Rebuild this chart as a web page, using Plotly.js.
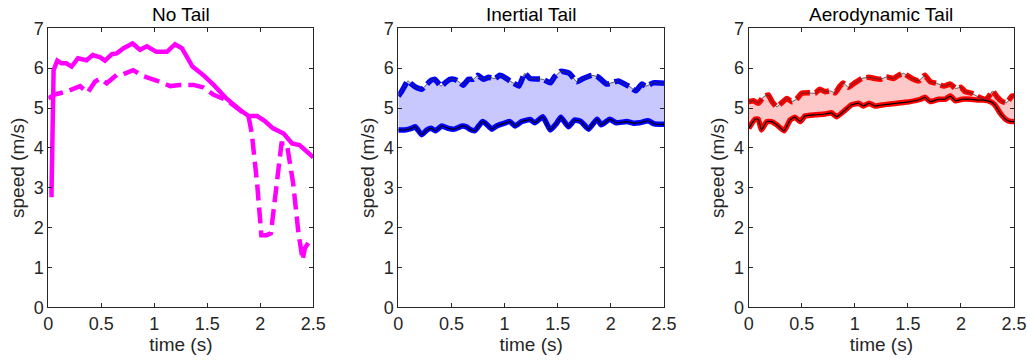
<!DOCTYPE html>
<html>
<head>
<meta charset="utf-8">
<script src="https://cdn.plot.ly/plotly-3.0.1.min.js"></script>
<style>html,body{margin:0;padding:0;background:#fff;}#chart{width:1027px;height:362px;}</style>
</head>
<body>
<div id="chart"></div>
<script>
// ---- No Tail ----
const noTailSolidT = [0.01,0.03,0.05,0.085,0.125,0.17,0.22,0.28,0.36,0.42,0.49,0.535,0.6,0.645,0.71,0.795,0.865,0.93,1.02,1.12,1.195,1.26,1.36,1.46,1.56,1.68,1.81,1.89,1.97,2.04,2.12,2.22,2.3,2.37,2.5];
const noTailSolidV = [2.82,2.82,5.95,6.19,6.12,6.12,6.04,6.25,6.2,6.33,6.27,6.19,6.35,6.37,6.5,6.62,6.46,6.55,6.41,6.41,6.6,6.5,6.04,5.83,5.58,5.24,4.95,4.8,4.8,4.68,4.49,4.36,4.11,4.07,3.76];
const noTailDashT = [0,0.06,0.17,0.3,0.37,0.44,0.49,0.55,0.645,0.71,0.8,0.9,1.02,1.15,1.24,1.37,1.46,1.56,1.68,1.81,1.89,1.92,1.97,2.01,2.06,2.1,2.15,2.2,2.25,2.31,2.36,2.4,2.42,2.47,2.5];
const noTailDashV = [5.24,5.34,5.41,5.55,5.38,5.66,5.74,5.62,5.83,5.85,5.95,5.8,5.69,5.55,5.58,5.58,5.52,5.33,5.2,4.95,4.78,4.36,3.11,1.81,1.81,1.86,3.03,4.11,4.11,3.11,1.86,1.19,1.48,1.69,1.67];

// ---- Inertial Tail ----
const inertUpperT = [0,0.03,0.09,0.125,0.16,0.22,0.27,0.31,0.345,0.4,0.44,0.485,0.53,0.56,0.61,0.66,0.705,0.75,0.8,0.85,0.91,0.955,1.0,1.05,1.1,1.135,1.19,1.24,1.36,1.43,1.47,1.53,1.61,1.68,1.74,1.82,1.88,1.96,2.04,2.07,2.13,2.18,2.235,2.29,2.33,2.4,2.5];
const inertUpperV = [5.3,5.41,5.68,5.6,5.53,5.47,5.6,5.7,5.72,5.55,5.63,5.72,5.72,5.68,5.57,5.72,5.72,5.82,5.72,5.77,5.74,5.82,5.77,5.68,5.6,5.55,5.87,5.74,5.72,5.63,5.78,5.92,5.87,5.66,5.74,5.82,5.78,5.6,5.66,5.68,5.6,5.53,5.43,5.6,5.55,5.63,5.62];
const inertLowerT = [0,0.06,0.125,0.16,0.22,0.27,0.31,0.35,0.41,0.47,0.53,0.6,0.64,0.67,0.72,0.79,0.82,0.88,0.925,1.0,1.05,1.1,1.16,1.24,1.285,1.36,1.43,1.49,1.53,1.6,1.66,1.72,1.79,1.87,1.91,1.99,2.05,2.15,2.21,2.27,2.35,2.41,2.5];
const inertLowerV = [4.45,4.45,4.49,4.53,4.33,4.45,4.49,4.43,4.55,4.49,4.47,4.55,4.53,4.47,4.43,4.66,4.62,4.47,4.55,4.62,4.66,4.55,4.66,4.71,4.63,4.78,4.45,4.62,4.77,4.53,4.7,4.66,4.47,4.72,4.58,4.72,4.63,4.66,4.62,4.63,4.68,4.6,4.59];

// ---- Aerodynamic Tail ----
const aeroUpperT = [0,0.045,0.09,0.14,0.185,0.22,0.265,0.31,0.36,0.405,0.45,0.5,0.56,0.625,0.67,0.72,0.77,0.815,0.86,0.89,0.94,1.0,1.065,1.13,1.19,1.24,1.3,1.365,1.41,1.46,1.49,1.54,1.6,1.66,1.71,1.77,1.84,1.9,1.95,2.0,2.04,2.1,2.17,2.23,2.26,2.3,2.34,2.39,2.43,2.48,2.5];
const aeroUpperV = [5.16,5.18,5.12,5.28,5.33,5.16,5.03,5.13,5.24,5.16,5.22,5.37,5.38,5.37,5.47,5.41,5.43,5.38,5.55,5.63,5.52,5.63,5.74,5.77,5.74,5.72,5.78,5.74,5.82,5.87,5.82,5.74,5.68,5.82,5.66,5.62,5.55,5.6,5.49,5.52,5.41,5.37,5.27,5.22,5.28,5.43,5.28,5.16,5.13,5.3,5.3];
const aeroLowerT = [0,0.06,0.09,0.12,0.17,0.215,0.265,0.335,0.39,0.435,0.485,0.53,0.625,0.72,0.78,0.83,0.91,0.97,1.035,1.08,1.135,1.19,1.24,1.33,1.43,1.52,1.62,1.66,1.71,1.79,1.85,1.9,1.95,2.01,2.09,2.15,2.21,2.28,2.32,2.37,2.42,2.47,2.5];
const aeroLowerV = [4.49,4.72,4.72,4.45,4.66,4.66,4.58,4.43,4.7,4.77,4.66,4.8,4.83,4.85,4.88,4.78,4.95,5.08,5.12,5.05,5.12,5.05,5.07,5.1,5.13,5.16,5.22,5.27,5.16,5.22,5.22,5.3,5.18,5.22,5.22,5.2,5.2,5.16,5.08,4.87,4.72,4.66,4.66];

const titles = ['No Tail', 'Inertial Tail', 'Aerodynamic Tail'];
const xTicks = [0, 0.5, 1, 1.5, 2, 2.5];
const xTickText = ['0', '0.5', '1', '1.5', '2', '2.5'];
const yTicks = [0, 1, 2, 3, 4, 5, 6, 7];

const FONT = 'Liberation Sans, Arial, Helvetica, sans-serif';
const W = 1027, H = 362;
const xDomPx = [[48.3, 313.3], [398.3, 664], [748.7, 1014]];
const yDom = [(H - 307.3) / H, (H - 28.3) / H];

function ln(x, y, xa, ya, color, width, dash, smooth) {
  return {x: x, y: y, xaxis: xa, yaxis: ya, type: 'scatter', mode: 'lines',
    line: {color: color, width: width, dash: dash || 'solid', shape: smooth ? 'spline' : 'linear', smoothing: 0.4},
    hoverinfo: 'skip', showlegend: false};
}
function fillPair(xl, yl, xu, yu, xa, ya, fc) {
  return [
    {x: xl, y: yl, xaxis: xa, yaxis: ya, type: 'scatter', mode: 'lines', line: {width: 0, shape: 'spline', smoothing: 0.4}, showlegend: false, hoverinfo: 'skip'},
    {x: xu, y: yu, xaxis: xa, yaxis: ya, type: 'scatter', mode: 'lines', line: {width: 0, shape: 'spline', smoothing: 0.4}, fill: 'tonexty', fillcolor: fc, showlegend: false, hoverinfo: 'skip'}
  ];
}

const traces = [
  ln(noTailSolidT, noTailSolidV, 'x', 'y', '#FF00FF', 4.5, 'solid', false),
  ln(noTailDashT, noTailDashV, 'x', 'y', '#FF00FF', 4.5, '16px,7px', false),
  ...fillPair(inertLowerT, inertLowerV, inertUpperT, inertUpperV, 'x2', 'y2', 'rgba(200,200,255,1)'),
  ln(inertLowerT, inertLowerV, 'x2', 'y2', '#0000FF', 5.5, 'solid', true),
  ln(inertUpperT, inertUpperV, 'x2', 'y2', '#0000FF', 5.5, '16px,5px', true),
  ln(inertLowerT, inertLowerV, 'x2', 'y2', '#000000', 1.2, 'solid', true),
  ln(inertUpperT, inertUpperV, 'x2', 'y2', '#333333', 0.8, 'solid', true),
  ...fillPair(aeroLowerT, aeroLowerV, aeroUpperT, aeroUpperV, 'x3', 'y3', 'rgba(255,200,200,1)'),
  ln(aeroLowerT, aeroLowerV, 'x3', 'y3', '#FF0000', 5.5, 'solid', true),
  ln(aeroUpperT, aeroUpperV, 'x3', 'y3', '#FF0000', 5.5, '16px,5px', true),
  ln(aeroLowerT, aeroLowerV, 'x3', 'y3', '#000000', 1.2, 'solid', true),
  ln(aeroUpperT, aeroUpperV, 'x3', 'y3', '#333333', 0.8, 'solid', true)
];

const layout = {
  width: W, height: H,
  margin: {l: 0, r: 0, t: 0, b: 0},
  paper_bgcolor: '#fff', plot_bgcolor: '#fff',
  font: {family: FONT, color: '#262626', size: 18},
  showlegend: false,
  annotations: []
};

const axisNames = ['', '2', '3'];
for (let i = 0; i < 3; i++) {
  const xk = 'xaxis' + axisNames[i], yk = 'yaxis' + axisNames[i];
  layout[xk] = {
    domain: [xDomPx[i][0] / W, xDomPx[i][1] / W], range: [0, 2.5], anchor: 'y' + axisNames[i],
    tickmode: 'array', tickvals: xTicks, ticktext: xTickText,
    ticks: 'inside', ticklen: 4, tickwidth: 1, tickcolor: '#262626',
    showline: true, linecolor: '#262626', linewidth: 1, mirror: 'ticks',
    showgrid: false, zeroline: false, automargin: false,
    tickfont: {family: FONT, size: 18, color: '#262626'},
    title: {text: 'time (s)', font: {family: FONT, size: 19, color: '#262626'}, standoff: 2}
  };
  layout[yk] = {
    domain: yDom, range: [0, 7], anchor: 'x' + axisNames[i],
    tickmode: 'array', tickvals: yTicks,
    ticks: 'inside', ticklen: 4, tickwidth: 1, tickcolor: '#262626',
    showline: true, linecolor: '#262626', linewidth: 1, mirror: 'ticks',
    showgrid: false, zeroline: false, automargin: false,
    tickfont: {family: FONT, size: 18, color: '#262626'},
    title: {text: 'speed (m/s)', font: {family: FONT, size: 19, color: '#262626'}, standoff: 4}
  };
  layout.annotations.push({
    text: titles[i], xref: 'paper', yref: 'paper',
    x: (xDomPx[i][0] + xDomPx[i][1]) / 2 / W, y: yDom[1], yshift: 1,
    xanchor: 'center', yanchor: 'bottom', showarrow: false,
    font: {family: FONT, size: 19, color: '#000'}
  });
}

Plotly.newPlot('chart', traces, layout, {staticPlot: true, displayModeBar: false});
</script>
</body>
</html>
